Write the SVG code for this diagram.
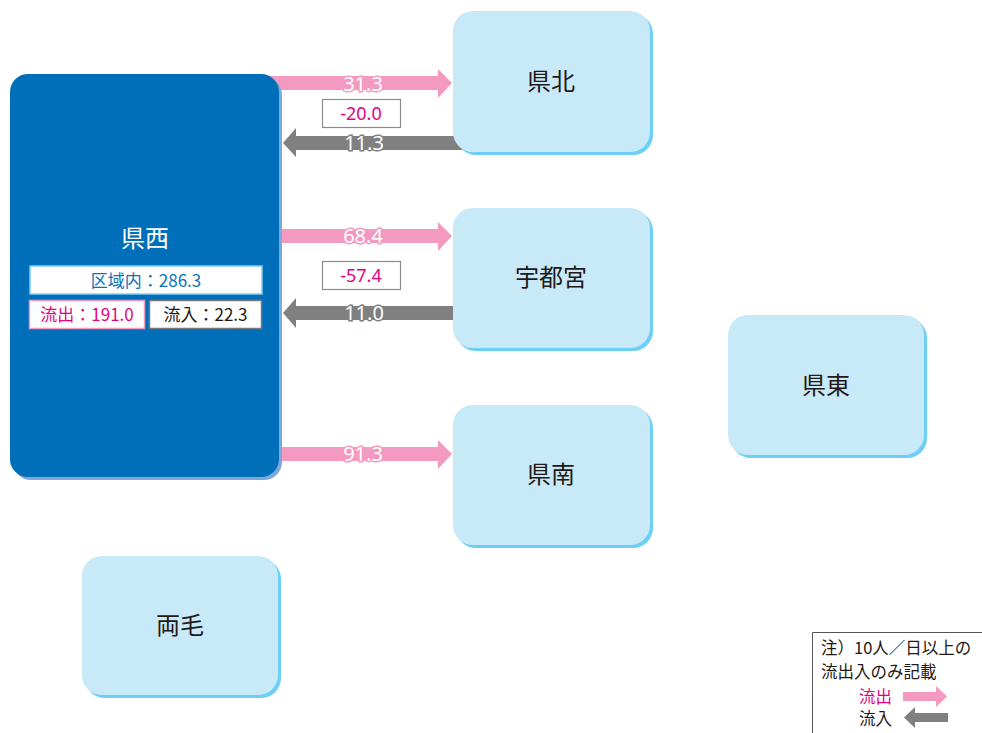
<svg xmlns="http://www.w3.org/2000/svg" width="982" height="733" viewBox="0 0 982 733">
<style>
text{font-family:"Noto Sans CJK JP","Noto Sans",sans-serif}
.nd{fill:#c8e9f8}
.sh{fill:#6dcff6}
.nt{font-size:24px;fill:#231815;text-anchor:middle;dominant-baseline:central}
.out{fill:#f49ac1}
.in{fill:#808080}
.lo{font-size:20px;fill:#fff;stroke:#f49ac1;stroke-width:3;paint-order:stroke;text-anchor:middle;dominant-baseline:central;font-family:"Noto Sans",sans-serif}
.li{font-size:20px;fill:#fff;stroke:#808080;stroke-width:3;paint-order:stroke;text-anchor:middle;dominant-baseline:central;font-family:"Noto Sans",sans-serif}
.nb{fill:#fff;stroke:#8c8c8c;stroke-width:1.2}
.nbt{font-size:18px;fill:#e4007f;text-anchor:middle;dominant-baseline:central;font-family:"Noto Sans",sans-serif}
.lg{font-size:16.5px;fill:#231815}
</style>
<g id="connectors">
<g id="a-kenhoku-out"><rect class="out" x="270" y="76" width="169" height="14"/><polygon class="out" points="438,69 452,83 438,98"/><text class="lo" x="363" y="83">31.3</text></g>
<g id="a-kenhoku-in"><rect class="in" x="294" y="136" width="176" height="14"/><polygon class="in" points="296,128 283,143 296,157"/><text class="li" x="364" y="142">11.3</text></g>
<g id="a-utsu-out"><rect class="out" x="270" y="229" width="169" height="14"/><polygon class="out" points="438,222 452,236 438,251"/><text class="lo" x="363" y="235">68.4</text></g>
<g id="a-utsu-in"><rect class="in" x="294" y="306" width="176" height="14"/><polygon class="in" points="296,298 283,313 296,328"/><text class="li" x="364" y="312">11.0</text></g>
<g id="a-kennan-out"><rect class="out" x="270" y="447" width="169" height="14"/><polygon class="out" points="438,440 452,454 438,469"/><text class="lo" x="363" y="453">91.3</text></g>
<g id="net1"><rect class="nb" x="322.5" y="99.5" width="78" height="28"/><text class="nbt" x="361" y="113">-20.0</text></g>
<g id="net2"><rect class="nb" x="322.5" y="261.5" width="78" height="28"/><text class="nbt" x="361" y="275">-57.4</text></g>
</g>
<g id="kensei">
<rect x="13" y="77" width="269" height="403" rx="18" fill="#7fa8da"/>
<rect x="10" y="74" width="269" height="403" rx="18" fill="#006fba"/>
<text x="145" y="236" font-size="24" fill="#fff" text-anchor="middle" dominant-baseline="central">県西</text>
<rect x="30" y="266" width="232" height="28" fill="#fff" stroke="#7fcef4" stroke-width="1.5"/>
<text x="146" y="279" font-size="17" fill="#0a72bb" text-anchor="middle" dominant-baseline="central">区域内：286.3</text>
<rect x="29.5" y="300.5" width="115" height="28" fill="#fff" stroke="#f49ac1" stroke-width="1.5"/>
<text x="87" y="313.5" font-size="17" fill="#e4007f" text-anchor="middle" dominant-baseline="central">流出：191.0</text>
<rect x="149.5" y="300.5" width="112" height="28" fill="#fff" stroke="#777" stroke-width="1.5"/>
<text x="205.5" y="313.5" font-size="17" fill="#231815" text-anchor="middle" dominant-baseline="central">流入：22.3</text>
</g>
<g id="kenhoku"><rect class="sh" x="456" y="14" width="197" height="141" rx="20"/><rect class="nd" x="453" y="11" width="197" height="141" rx="20"/><text class="nt" x="551" y="79">県北</text></g>
<g id="utsunomiya"><rect class="sh" x="456" y="211" width="197" height="140" rx="20"/><rect class="nd" x="453" y="208" width="197" height="140" rx="20"/><text class="nt" x="551" y="275">宇都宮</text></g>
<g id="kennan"><rect class="sh" x="456" y="408" width="197" height="140" rx="20"/><rect class="nd" x="453" y="405" width="197" height="140" rx="20"/><text class="nt" x="551" y="472">県南</text></g>
<g id="kentou"><rect class="sh" x="731" y="318" width="196" height="140" rx="20"/><rect class="nd" x="728" y="315" width="196" height="140" rx="20"/><text class="nt" x="826" y="383">県東</text></g>
<g id="ryomo"><rect class="sh" x="85" y="559" width="196" height="139" rx="20"/><rect class="nd" x="82" y="556" width="196" height="139" rx="20"/><text class="nt" x="180" y="623">両毛</text></g>
<g id="legend">
<path d="M812.5,733 V632.5 H982" fill="none" stroke="#555" stroke-width="1"/>
<text class="lg" x="821" y="654">注）10人／日以上の</text>
<text class="lg" x="821" y="678">流出入のみ記載</text>
<text class="lg" x="859" y="703" style="fill:#e4007f">流出</text>
<text class="lg" x="859" y="725">流入</text>
<rect class="out" x="903" y="692" width="34" height="9"/><polygon class="out" points="936,686 947,696.5 936,707"/>
<rect class="in" x="914" y="713" width="34" height="9"/><polygon class="in" points="915,707 904,717.5 915,728"/>
</g>
</svg>
